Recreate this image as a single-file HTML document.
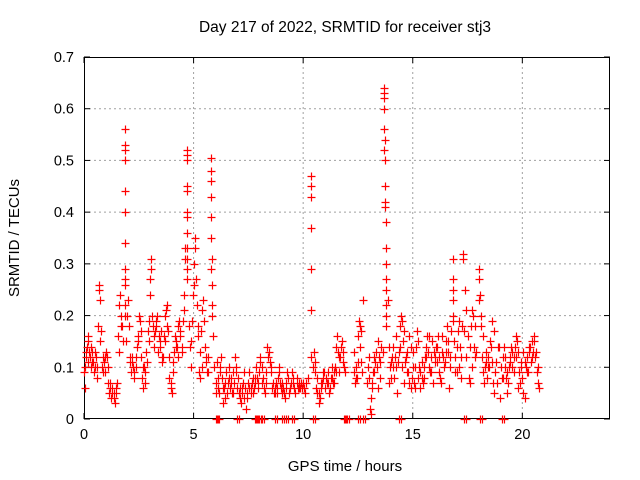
<!DOCTYPE html>
<html><head><meta charset="utf-8"><style>
body{margin:0;background:#fff;}
svg{display:block;font-family:"Liberation Sans",sans-serif;}
</style></head><body>
<svg id="chart" width="640" height="480" xmlns="http://www.w3.org/2000/svg">
<text x="345" y="32" font-size="15.5" text-anchor="middle">Day 217 of 2022, SRMTID for receiver stj3</text>
<text x="345" y="471" font-size="15" text-anchor="middle">GPS time / hours</text>
<text x="0" y="0" font-size="15" text-anchor="middle" transform="translate(19,238) rotate(-90)">SRMTID / TECUs</text>
<g id="grid"></g>
<g id="axes"></g>
<g id="marks"></g>
</svg>
<script>
const xTicks=[0,5,10,15,20];
const yTicks=[0,0.1,0.2,0.3,0.4,0.5,0.6,0.7];
const yTickLabels=["0","0.1","0.2","0.3","0.4","0.5","0.6","0.7"];
const hours=[0.00,0.03,0.06,0.10,0.13,0.17,0.20,0.23,0.27,0.30,0.33,0.37,0.40,0.45,0.50,0.55,0.60,0.65,0.68,0.70,0.72,0.75,0.80,0.85,0.90,0.95,1.00,1.05,1.10,1.15,1.20,1.25,1.30,1.35,1.40,1.45,1.50,1.55,1.60,1.65,1.70,1.75,
1.85,1.85,1.85,1.85,1.85,1.85,1.85,1.85,1.85,1.85,1.85,1.85,
1.90,1.95,2.00,2.05,2.10,2.15,2.20,2.25,2.30,2.35,2.40,2.45,2.50,2.55,2.60,2.65,2.70,2.75,2.80,2.85,2.90,2.95,3.00,3.02,3.04,3.06,3.10,3.15,3.20,3.25,3.30,3.35,3.40,3.45,3.50,3.55,3.60,3.65,3.70,3.75,3.80,3.85,3.90,3.95,4.00,4.05,4.10,4.15,4.20,4.25,4.30,4.35,4.40,4.45,4.50,4.55,4.60,4.62,
4.70,4.70,4.70,4.70,4.70,4.70,4.70,4.70,4.70,4.70,4.70,4.70,
4.80,4.85,4.90,4.95,5.00,5.02,5.05,5.08,5.10,5.15,5.20,5.25,5.30,5.35,5.40,5.45,5.50,5.55,5.60,5.65,
5.80,5.80,5.80,5.80,5.80,5.80,5.80,5.84,5.84,5.84,5.84,
5.90,5.95,6.00,6.05,6.10,6.15,6.20,6.25,6.30,6.35,6.40,6.45,6.50,6.55,6.60,6.65,6.70,6.75,6.80,6.85,6.90,6.95,7.00,7.05,7.10,7.15,7.20,7.25,7.30,7.35,7.40,7.45,7.50,7.55,7.60,7.65,7.70,7.75,7.80,7.85,7.90,7.95,8.00,8.05,8.10,8.15,8.20,8.25,8.30,8.35,8.40,8.45,8.50,8.55,8.60,8.65,8.70,8.75,8.80,8.85,8.90,8.95,9.00,9.05,9.10,9.15,9.20,9.25,9.30,9.35,9.40,9.45,9.50,9.55,9.60,9.65,9.70,9.75,9.80,9.85,9.90,9.95,10.00,10.05,10.10,10.15,10.20,
10.35,10.35,10.35,10.35,10.35,10.35,10.35,10.35,
10.45,10.50,10.55,10.60,10.65,10.70,10.75,10.80,10.85,10.90,10.95,11.00,11.05,11.10,11.15,11.20,11.25,11.30,11.35,11.40,11.45,11.50,11.55,11.60,11.65,11.70,11.75,11.80,11.85,11.90,
12.30,12.35,12.40,12.45,12.50,12.55,12.58,12.60,12.65,12.70,12.72,
12.90,12.95,13.00,13.05,13.08,13.10,13.15,13.20,13.25,13.30,13.35,13.40,13.45,13.50,13.55,
13.68,13.68,13.70,13.70,13.70,13.72,13.70,13.72,13.74,13.74,13.72,13.76,13.76,13.78,13.78,13.80,13.78,13.80,
13.80,13.85,13.90,13.95,14.00,14.05,14.10,14.15,14.20,14.25,14.30,14.35,14.40,14.45,14.50,14.55,14.60,14.65,14.70,14.75,14.80,14.85,14.90,14.95,15.00,15.05,15.10,15.15,15.20,15.25,15.30,15.35,15.40,15.45,15.50,15.55,15.60,15.65,15.70,15.75,15.80,15.85,15.90,15.95,16.00,16.05,16.10,16.15,16.20,16.25,16.30,16.35,16.40,16.45,16.50,16.55,16.60,16.65,16.70,16.75,
16.85,16.85,16.85,16.85,16.85,16.85,
16.90,16.95,17.00,17.05,17.10,17.15,17.20,17.25,17.28,17.30,17.35,17.40,17.45,17.50,17.55,17.60,17.65,17.70,17.75,17.80,17.85,17.90,18.00,18.02,18.04,18.08,18.10,18.15,18.20,18.25,18.30,18.35,18.40,18.45,18.50,18.55,18.60,18.65,18.70,18.75,18.80,18.85,18.90,19.00,19.05,19.10,19.15,19.20,19.25,19.30,19.35,19.40,19.45,19.50,19.55,19.60,19.65,19.70,19.75,19.80,19.85,19.90,19.95,20.00,20.05,20.10,20.15,20.20,20.25,20.30,20.35,20.40,20.45,20.50,20.55,20.60,20.65,20.70,20.75];
const srmtid=[.09,.10,.06,.12,.14,.11,.16,.13,.12,.14,.10,.13,.11,.09,.10,.12,.08,.18,.26,.25,.23,.15,.10,.12,.11,.09,.13,.12,.07,.05,.07,.04,.06,.05,.03,.05,.07,.16,.22,.24,.20,.18,
.56,.53,.52,.50,.44,.40,.34,.29,.27,.26,.22,.20,
.15,.20,.23,.18,.12,.09,.11,.10,.08,.12,.14,.15,.20,.19,.12,.08,.06,.10,.09,.13,.17,.19,.24,.27,.31,.29,.20,.18,.14,.17,.19,.20,.16,.15,.17,.11,.12,.16,.20,.21,.22,.17,.12,.07,.05,.09,.13,.16,.15,.14,.18,.19,.17,.14,.19,.24,.31,.33,
.52,.51,.50,.45,.44,.40,.39,.36,.33,.31,.29,.27,
.18,.14,.10,.19,.26,.30,.33,.35,.27,.22,.16,.09,.08,.17,.21,.23,.14,.11,.09,.12,
.505,.48,.46,.43,.39,.35,.29,.31,.26,.22,.20,
.16,.10,.07,.11,.06,.05,.09,.12,.08,.03,.06,.04,.09,.07,.10,.06,.08,.05,.09,.07,.12,.10,.06,.05,.04,.03,.05,.07,.09,.06,.02,.04,.07,.06,.05,.07,.08,.06,.07,.10,.08,.07,.09,.12,.10,.08,.06,.05,.07,.14,.12,.13,.11,.09,.06,.05,.06,.07,.05,.08,.10,.07,.06,.05,.06,.04,.07,.09,.08,.05,.06,.07,.09,.08,.06,.05,.07,.06,.07,.06,.07,.06,.07,.06,.05,.07,.08,
.47,.47,.45,.43,.37,.29,.21,.12,
.10,.13,.09,.06,.05,.03,.04,.06,.07,.08,.09,.06,.08,.07,.09,.05,.08,.10,.07,.09,.10,.14,.16,.13,.09,.12,.15,.13,.10,.09,
.09,.07,.10,.08,.16,.19,.18,.14,.11,.09,.23,
.07,.10,.08,.02,.04,.01,.07,.09,.12,.11,.10,.15,.12,.08,.14,
.64,.63,.62,.60,.56,.54,.52,.50,.45,.42,.41,.38,.33,.30,.27,.25,.22,.18,
.20,.23,.14,.10,.08,.12,.14,.08,.12,.10,.05,.13,.18,.20,.19,.15,.17,.11,.12,.13,.09,.07,.06,.08,.10,.07,.06,.14,.17,.15,.10,.06,.08,.07,.10,.12,.14,.16,.13,.10,.09,.12,.15,.13,.12,.14,.11,.16,.09,.08,.07,.13,.12,.11,.15,.18,.13,.06,.10,.17,
.31,.27,.25,.23,.20,.19,
.15,.12,.09,.17,.19,.14,.12,.18,.32,.31,.17,.25,.21,.16,.08,.07,.18,.21,.20,.14,.12,.13,.23,.29,.27,.24,.18,.12,.09,.07,.10,.11,.08,.12,.10,.14,.11,.07,.05,.09,.11,.07,.14,.04,.08,.12,.14,.10,.08,.05,.07,.10,.12,.14,.10,.12,.14,.16,.15,.13,.09,.07,.11,.08,.05,.04,.10,.12,.09,.13,.14,.11,.15,.13,.16,.12,.09,.07,.06];
const hours2=[0.08,0.18,0.28,0.38,0.48,0.58,0.78,0.88,0.98,1.08,1.18,1.28,1.38,1.48,1.58,1.68,1.78,2.08,2.18,2.28,2.38,2.48,2.58,2.68,2.78,2.88,2.98,3.18,3.28,3.38,3.48,3.58,3.68,3.78,3.88,3.98,4.08,4.18,4.28,4.38,4.48,4.58,4.88,4.98,5.18,5.28,5.38,5.48,5.58,5.68,6.02,6.12,6.22,6.32,6.42,6.52,6.62,6.72,6.82,6.92,7.02,7.12,7.22,7.32,7.42,7.52,7.62,7.72,7.82,7.92,8.02,8.12,8.22,8.32,8.42,8.52,8.62,8.72,8.82,8.92,9.02,9.12,9.22,9.32,9.42,9.52,9.62,9.72,9.82,9.92,10.02,10.12,10.52,10.62,10.72,10.82,10.92,11.02,11.12,11.22,11.32,11.42,11.52,11.62,11.72,11.82,12.32,12.42,12.52,12.62,13.02,13.12,13.22,13.32,13.42,13.52,13.62,13.92,14.02,14.12,14.22,14.32,14.42,14.52,14.62,14.72,14.82,14.92,15.02,15.12,15.22,15.32,15.42,15.52,15.62,15.72,15.82,15.92,16.02,16.12,16.22,16.32,16.42,16.52,16.62,16.72,16.92,17.02,17.12,17.22,17.42,17.52,17.62,17.72,17.82,18.12,18.22,18.32,18.42,18.52,18.62,18.72,18.82,18.92,19.02,19.12,19.22,19.32,19.42,19.52,19.62,19.72,19.82,19.92,20.02,20.12,20.22,20.32,20.42,20.52,20.62,20.72];
const srmtid2=[.13,.15,.12,.11,.13,.10,.17,.09,.12,.10,.06,.05,.04,.06,.13,.18,.15,.11,.12,.09,.10,.16,.17,.10,.07,.11,.15,.16,.18,.13,.14,.12,.15,.18,.08,.06,.11,.14,.12,.16,.13,.21,.15,.24,.18,.13,.10,.19,.12,.09,.05,.08,.10,.06,.07,.05,.08,.07,.05,.09,.08,.06,.06,.04,.05,.09,.06,.05,.08,.06,.11,.07,.06,.09,.13,.10,.07,.05,.06,.09,.07,.05,.06,.08,.06,.07,.05,.08,.06,.07,.06,.07,.11,.08,.05,.07,.09,.08,.07,.06,.08,.07,.09,.12,.14,.11,.13,.08,.11,.17,.12,.06,.09,.13,.06,.11,.13,.07,.11,.10,.16,.11,.14,.10,.07,.09,.16,.14,.13,.10,.08,.09,.11,.08,.12,.16,.09,.07,.11,.14,.12,.16,.10,.13,.15,.12,.09,.14,.10,.08,.12,.16,.14,.10,.18,.20,.16,.13,.10,.15,.19,.17,.11,.14,.10,.08,.12,.09,.11,.13,.09,.12,.06,.10,.13,.11,.09,.14,.12,.15,.13,.10,.07,.09,.12,.11,.10,.14,.12,.10,.09];
const zeroHours=[6.0,6.05,7.0,7.8,7.85,8.0,8.1,8.7,9.05,9.2,9.5,10.45,11.85,11.9,12.0,12.5,12.75,14.35,17.35,18.05,19.05];

const L=84,R=610,T=57,B=419,XMAX=24,YMAX=0.7;
const xs=v=>L+(v/XMAX)*(R-L);
const ys=v=>B-(v/YMAX)*(B-T);
const NS="http://www.w3.org/2000/svg";
function mk(tag,parent,attrs){const e=document.createElementNS(NS,tag);for(const k in attrs)e.setAttribute(k,attrs[k]);parent.appendChild(e);return e;}
const grid=document.getElementById('grid'),axes=document.getElementById('axes'),marks=document.getElementById('marks');
xTicks.forEach(t=>{
  const x=xs(t);
  if(t>0){const g=mk('line',grid,{x1:x,x2:x,y1:T,y2:B,stroke:'#a0a0a0','stroke-dasharray':'2,3','stroke-width':1});
  
  }
  mk('line',axes,{x1:x,x2:x,y1:B,y2:B-6,stroke:'#000'});
  mk('line',axes,{x1:x,x2:x,y1:T,y2:T+6,stroke:'#000'});
  const lb=mk('text',axes,{x:x,y:B+20,'font-size':14.5,'text-anchor':'middle'});
  lb.textContent=t;
  
  
});
yTicks.forEach((t,i)=>{
  const y=ys(t);
  if(t>0&&t<0.7){const g=mk('line',grid,{x1:L,x2:R,y1:y,y2:y,stroke:'#a0a0a0','stroke-dasharray':'2,3','stroke-width':1});
  
  }
  mk('line',axes,{x1:L,x2:L+6,y1:y,y2:y,stroke:'#000'});
  mk('line',axes,{x1:R,x2:R-6,y1:y,y2:y,stroke:'#000'});
  const lb=mk('text',axes,{x:L-10,y:y+5,'font-size':14.5,'text-anchor':'end'});
  lb.textContent=yTickLabels[i];
  
  
});
const frame=mk('rect',axes,{x:L+0.5,y:T+0.5,width:R-L-1,height:B-T-1,fill:'none',stroke:'#000'});


let d='';
function plus(x,y){x=Math.round(x)+0.5;y=Math.round(y)+0.5;d+=`M${x-4} ${y}h8M${x} ${y-4}v8`;}
hours.forEach((h,i)=>plus(xs(h),ys(srmtid[i])));
hours2.forEach((h,i)=>plus(xs(h),ys(srmtid2[i])));
zeroHours.forEach(h=>{plus(xs(h),ys(0));plus(xs(h)+2,ys(0));});
const p=mk('path',marks,{d:d,stroke:'#ff0000','stroke-width':1.2,fill:'none'});


</script>
</body></html>
